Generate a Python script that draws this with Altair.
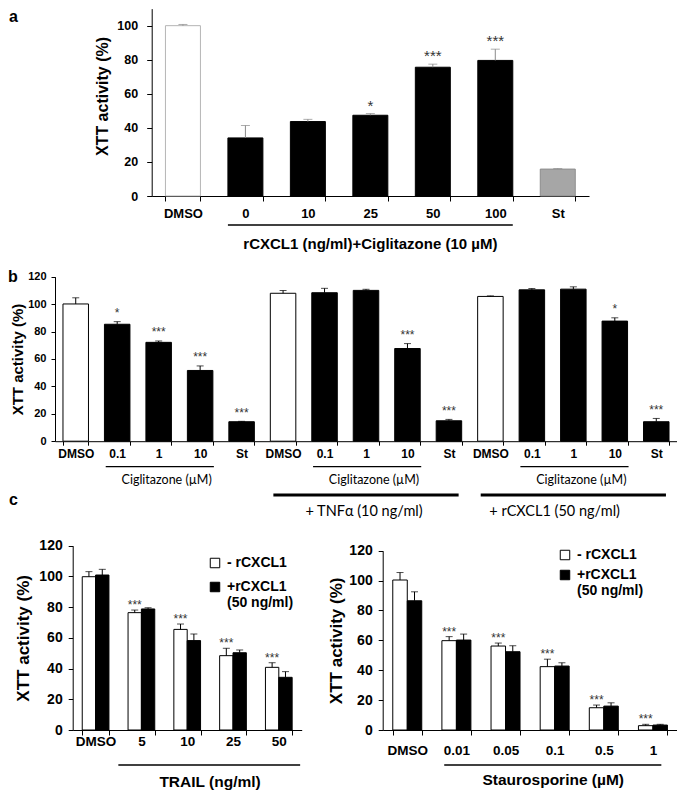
import altair as alt
import pandas as pd

# ---------------- data ----------------
# panel a
a_cats = ["DMSO", "0", "10", "25", "50", "100", "St"]
a_vals = [100.0, 34.1, 43.7, 47.4, 75.6, 79.6, 15.8]
a_errs = [0.7, 7.3, 1.3, 1.0, 1.8, 6.6, 0.3]
a_sig = ["", "", "", "*", "***", "***", ""]
a_kind = ["ctrl", "trt", "trt", "trt", "trt", "trt", "st"]
a_title = "rCXCL1 (ng/ml)+Ciglitazone (10 µM)"

# panel b
b_groups = ["1", "2", "3"]
b_doses = ["DMSO", "0.1", "1", "10", "St"]
b_vals = [100.1, 85.3, 72.1, 51.6, 14.2,
          107.9, 108.3, 110.0, 67.6, 14.9,
          105.6, 110.4, 110.9, 87.6, 14.2]
b_errs = [4.5, 1.9, 1.0, 3.3, 0.3,
          2.0, 3.2, 0.8, 3.6, 1.0,
          0.4, 1.0, 1.7, 2.4, 2.4]
b_sig = ["", "*", "***", "***", "***",
         "", "", "", "***", "***",
         "", "", "", "*", "***"]
b_sub = "Ciglitazone (µM)"
b_group_titles = ["+ TNFα (10 ng/ml)", "+ rCXCL1 (50 ng/ml)"]

# panel c (left)
c1_cats = ["DMSO", "5", "10", "25", "50"]
c1_minus = [99.8, 76.4, 65.5, 48.4, 40.8]
c1_minus_err = [3.3, 1.7, 3.5, 4.8, 3.0]
c1_plus = [100.9, 78.8, 58.2, 50.3, 34.3]
c1_plus_err = [3.7, 0.8, 4.3, 1.8, 3.7]
c1_sig = ["", "***", "***", "***", "***"]
c1_title = "TRAIL (ng/ml)"

# panel c (right)
c2_cats = ["DMSO", "0.01", "0.05", "0.1", "0.5", "1"]
c2_minus = [100.4, 59.8, 56.2, 42.4, 14.9, 2.9]
c2_minus_err = [5.0, 2.7, 2.0, 5.0, 1.8, 0.9]
c2_plus = [86.5, 60.2, 52.4, 42.8, 16.0, 3.3]
c2_plus_err = [6.0, 4.0, 4.0, 2.2, 2.2, 0.5]
c2_sig = ["", "***", "***", "***", "***", "***"]
c2_title = "Staurosporine (µM)"

conds = ["-", "+"]
y_title = "XTT activity (%)"

# ---------------- layout / style ----------------
W, H = 669, 783
ARIAL = "Liberation Sans, Arial, Helvetica, sans-serif"
CALIBRI = "Lato, Open Sans, sans-serif"


def yaxis(off, values, size, tick, pad, tsize, tx, ty):
    return alt.Axis(orient="left", offset=off, values=values, grid=False,
                    domainColor="black", tickColor="black", tickSize=tick,
                    labelFont=ARIAL, labelFontSize=size, labelFontWeight="bold",
                    labelColor="black", labelPadding=pad,
                    title=y_title, titleFont=ARIAL, titleFontSize=tsize,
                    titleFontWeight="bold", titleColor="black",
                    titleX=tx, titleY=ty, titleBaseline="middle", titleAlign="center")


def xaxis(off, size, tick, pad, expr=None):
    kw = dict(orient="bottom", offset=off, labelAngle=0, grid=False,
              domainColor="black", tickColor="black", tickSize=tick,
              tickBand="extent", labelFont=ARIAL, labelFontSize=size,
              labelFontWeight="bold", labelColor="black", labelPadding=pad,
              labelBaseline="middle", labelOverlap=False, title=None)
    if expr:
        kw["labelExpr"] = expr
    return alt.Axis(**kw)


# ---------------- panel a ----------------
dfa = pd.DataFrame({"cat": a_cats, "v": a_vals, "e": a_errs, "sig": a_sig, "kind": a_kind})
A_Y0, A_PX = 188.0, 1.837
xa_scale = alt.Scale(domain=a_cats, range=[143.7, 581.0], paddingInner=0.44, paddingOuter=0.22)
ya_scale = alt.Scale(domain=[0, 102], range=[A_Y0, A_Y0 - 102 * A_PX])
base_a = alt.Chart(dfa).transform_calculate(hi="datum.v + datum.e")
bars_a = base_a.mark_bar(strokeWidth=1).encode(
    x=alt.X("cat:N", scale=xa_scale, axis=xaxis(-(H - A_Y0), 13, 5, 12)),
    y=alt.Y("v:Q", scale=ya_scale,
            axis=yaxis(-143.7, [0, 20, 40, 60, 80, 100], 12.5, 5, 9, 16, -49.7, 88)),
    fill=alt.Fill("kind:N", scale=alt.Scale(domain=["ctrl", "trt", "st"],
                                            range=["white", "black", "#a6a6a6"]), legend=None),
    stroke=alt.Stroke("kind:N", scale=alt.Scale(domain=["ctrl", "trt", "st"],
                                                range=["#b5b5b5", "black", "#8c8c8c"]), legend=None),
)
err_a = base_a.mark_rule(color="#8a8a8a", strokeWidth=1).encode(
    x="cat:N", y="v:Q", y2="hi:Q")
cap_a = base_a.mark_tick(color="#8a8a8a", size=9, thickness=1).encode(
    x="cat:N", y="hi:Q")
star_a = base_a.mark_text(font=ARIAL, fontSize=15, color="#333", baseline="alphabetic", dy=-3).encode(
    x="cat:N", y="hi:Q", text="sig:N")
ann_a = pd.DataFrame({"s": ["0"], "e": ["100"], "mid": ["25"], "t": [a_title]})
line_a = alt.Chart(ann_a).mark_rule(color="black", strokeWidth=1.5).encode(
    x=alt.X("s:N", bandPosition=0), x2=alt.X2("e:N", bandPosition=1),
    y=alt.datum(-17.0))
text_a = alt.Chart(ann_a).mark_text(font=ARIAL, fontSize=15, fontWeight="bold", color="black",
                                    baseline="middle").encode(
    x=alt.X("mid:N", bandPosition=0.5), y=alt.datum(-28.0), text="t:N")
panel_a = alt.layer(bars_a, err_a, cap_a, star_a, line_a, text_a)

# ---------------- panel b ----------------
b_keys = [f"{g}|{d}" for g in b_groups for d in b_doses]
dfb = pd.DataFrame({"cat": b_keys, "v": b_vals, "e": b_errs, "sig": b_sig,
                    "kind": ["ctrl" if k.endswith("DMSO") else "trt" for k in b_keys]})
B_Y0, B_PX = 433.2, 1.371
xb_scale = alt.Scale(domain=b_keys, range=[47.0, 669.0], paddingInner=0.385, paddingOuter=0.1925)
yb_scale = alt.Scale(domain=[0, 120], range=[B_Y0, B_Y0 - 120 * B_PX])
base_b = alt.Chart(dfb).transform_calculate(hi="datum.v + datum.e")
bars_b = base_b.mark_bar(stroke="black", strokeWidth=1).encode(
    x=alt.X("cat:N", scale=xb_scale,
            axis=xaxis(-(H - B_Y0), 12, 4, 7.8, "split(datum.value, '|')[1]")),
    y=alt.Y("v:Q", scale=yb_scale,
            axis=yaxis(-47.0, [0, 20, 40, 60, 80, 100, 120], 11, 4, 5, 15, -38, 351)),
    fill=alt.Fill("kind:N", scale=alt.Scale(domain=["ctrl", "trt"], range=["white", "black"]),
                  legend=None),
)
err_b = base_b.mark_rule(color="black", strokeWidth=1).encode(
    x="cat:N", y="v:Q", y2="hi:Q")
cap_b = base_b.mark_tick(color="black", size=7, thickness=1).encode(
    x="cat:N", y="hi:Q")
star_b = base_b.mark_text(font=ARIAL, fontSize=12, color="#333", baseline="alphabetic", dy=-4.5).encode(
    x="cat:N", y="hi:Q", text="sig:N")
ann_b = pd.DataFrame({"s": [f"{g}|0.1" for g in b_groups], "e": [f"{g}|10" for g in b_groups],
                      "mid": [f"{g}|1" for g in b_groups], "t": [b_sub] * 3})
under_b = alt.Chart(ann_b).mark_rule(color="black", strokeWidth=1.3, x2Offset=1).encode(
    x=alt.X("s:N", bandPosition=0.05), x2=alt.X2("e:N", bandPosition=1),
    y=alt.datum(-18.6))
sub_b = alt.Chart(ann_b).mark_text(font=CALIBRI, fontSize=12.5, color="black", baseline="middle",
                                   dx=8).encode(
    x=alt.X("mid:N", bandPosition=0.5), y=alt.datum(-28.3), text="t:N")
ann_b2 = pd.DataFrame({"s": ["2|DMSO", "3|DMSO"], "e": ["2|St", "3|St"],
                       "mid": ["2|1", "3|0.1"], "t": b_group_titles})
thick_b = alt.Chart(ann_b2).mark_rule(color="black", strokeWidth=3).encode(
    x=alt.X("s:N", bandPosition=0.12), x2=alt.X2("e:N", bandPosition=0.88),
    y=alt.datum(-39.2))
tnf_b = alt.Chart(ann_b2).transform_filter("datum.s == '2|DMSO'").mark_text(
    font=CALIBRI, fontSize=14.5, color="black", baseline="middle", dx=-2).encode(
    x=alt.X("mid:N", bandPosition=0.5), y=alt.datum(-51.4), text="t:N")
cx_b = alt.Chart(ann_b2).transform_filter("datum.s == '3|DMSO'").mark_text(
    font=CALIBRI, fontSize=14.5, color="black", baseline="middle", dx=10).encode(
    x=alt.X("mid:N", bandPosition=1), y=alt.datum(-51.4), text="t:N")
panel_b = alt.layer(bars_b, err_b, cap_b, star_b, under_b, sub_b, thick_b, tnf_b, cx_b)


# ---------------- panel c ----------------
def c_panel(cats, minus, minus_err, plus, plus_err, sig, title, xr, pin, y0, px,
            lab_pad, under_bp, under_off, under_y, title_anchor, title_bp, title_dx,
            title_y, leg_xy, row_pad, ytx):
    n = len(cats)
    df = pd.DataFrame({"cat": cats * 2, "cond": ["-"] * n + ["+"] * n,
                       "v": minus + plus, "e": minus_err + plus_err,
                       "sig": sig + [""] * n})
    xs = alt.Scale(domain=cats, range=xr, paddingInner=pin, paddingOuter=pin / 2)
    ys = alt.Scale(domain=[0, 120], range=[y0, y0 - 120 * px])
    xo = alt.XOffset("cond:N", scale=alt.Scale(domain=conds, paddingInner=0, paddingOuter=0))
    base = alt.Chart(df).transform_calculate(hi="datum.v + datum.e")
    legend = alt.Legend(orient="none", legendX=leg_xy[0], legendY=leg_xy[1], title=None,
                        direction="vertical", symbolType="square", symbolSize=90,
                        symbolStrokeColor="black", symbolStrokeWidth=1, padding=0,
                        labelFont=ARIAL, labelFontSize=14, labelFontWeight="bold",
                        labelColor="black", labelBaseline="middle", rowPadding=row_pad,
                        labelOffset=5,
                        labelExpr="datum.value == '+' ? ['+rCXCL1', ' (50 ng/ml)'] : '- rCXCL1'")
    bars = base.mark_bar(stroke="black", strokeWidth=1).encode(
        x=alt.X("cat:N", scale=xs, axis=xaxis(-(H - y0), 13.5, 5, lab_pad)),
        xOffset=xo,
        y=alt.Y("v:Q", scale=ys,
                axis=yaxis(-xr[0], [0, 20, 40, 60, 80, 100, 120], 14, 4.5, 6, 17,
                           ytx, y0 - 60 * px)),
        fill=alt.Fill("cond:N", scale=alt.Scale(domain=conds, range=["white", "black"]),
                      legend=legend),
    )
    err = base.mark_rule(color="black", strokeWidth=1).encode(
        x="cat:N", xOffset=xo, y="v:Q", y2="hi:Q")
    cap = base.mark_tick(color="black", size=7, thickness=1).encode(
        x="cat:N", xOffset=xo, y="hi:Q")
    star = base.mark_text(font=ARIAL, fontSize=12, color="#333", baseline="alphabetic", dy=-1).encode(
        x="cat:N", xOffset=xo, y="hi:Q", text="sig:N")
    ann = pd.DataFrame({"s": [cats[1]], "e": [cats[-1]], "mid": [title_anchor], "t": [title]})
    line = alt.Chart(ann).mark_rule(color="black", strokeWidth=1.5, xOffset=under_off[0],
                                    x2Offset=under_off[1]).encode(
        x=alt.X("s:N", bandPosition=under_bp[0]),
        x2=alt.X2("e:N", bandPosition=under_bp[1]), y=alt.datum(under_y))
    txt = alt.Chart(ann).mark_text(font=ARIAL, fontSize=15.5, fontWeight="bold", color="black",
                                   baseline="middle", dx=title_dx).encode(
        x=alt.X("mid:N", bandPosition=title_bp), y=alt.datum(title_y), text="t:N")
    return alt.layer(bars, err, cap, star, line, txt)


panel_c1 = c_panel(c1_cats, c1_minus, c1_minus_err, c1_plus, c1_plus_err, c1_sig, c1_title,
                   [64.7, 293.7], 0.417, 722.0, 1.536, 6.7, (0, 1), (-9.7, 8), -22.8,
                   "10", 1, 9.5, -33.7, (200, 548), 10, -48.7)
panel_c2 = c_panel(c2_cats, c2_minus, c2_minus_err, c2_plus, c2_plus_err, c2_sig, c2_title,
                   [374.7, 669.5], 0.41, 722.0, 1.494, 15, (0.08, 0.79), (0, 0), -23.4,
                   "0.1", 0.45, 0, -33.5, (550, 540), 6, -46.7)


# ---------------- panel letters ----------------
def letter(t, x, y):
    return alt.Chart(pd.DataFrame({"t": [t]})).mark_text(
        font=ARIAL, fontSize=16, fontWeight="bold", color="black", align="left",
        baseline="middle").encode(text="t:N", x=alt.value(x), y=alt.value(y))


letters = [letter("a", 1, 9), letter("b", 0, 269), letter("c", 1, 492)]

chart = alt.layer(panel_a, panel_b, panel_c1, panel_c2, *letters).resolve_scale(
    x="independent", y="independent", fill="independent", stroke="independent",
    xOffset="independent"
).resolve_axis(x="independent", y="independent").resolve_legend(fill="independent").properties(
    width=W, height=H, padding=0, autosize=alt.AutoSizeParams(type="none")
).configure_view(stroke=None)

chart.save("out.html", embed_options={"renderer": "svg", "actions": False})
